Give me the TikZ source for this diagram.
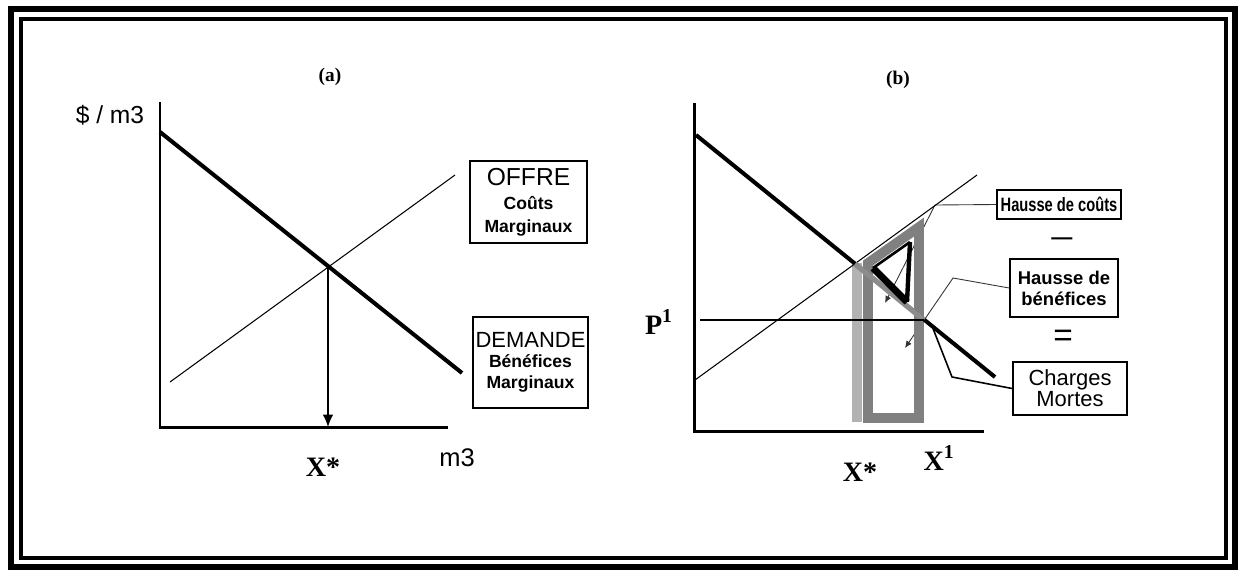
\documentclass[tikz,border=0pt]{standalone}
\usepackage{fontspec}
\setmainfont{Liberation Serif}
\setsansfont{Liberation Sans}
\newfontfamily\narrowsf[FakeStretch=0.76]{Liberation Sans}
\usetikzlibrary{arrows.meta}
\tikzset{
  frameout/.style={line width=3.8pt},
  framein/.style={line width=1.8pt},
  axis/.style={line width=1.7pt},
  dem/.style={line width=2.3pt},
  sup/.style={line width=0.6pt},
  lbox/.style={draw, line width=1pt, inner sep=0pt, align=center},
  conn/.style={line width=0.5pt, black!80},
  tip/.style={-{Latex[length=4pt,width=3.5pt]}},
  serlab/.style={font=\bfseries\fontsize{16}{16}\selectfont},
  panlab/.style={font=\bfseries\fontsize{11}{11}\selectfont},
  bandlight/.style={line width=5.5pt, black!30},
  banddark/.style={line width=5.5pt, black!50},
}
\begin{document}
\begin{tikzpicture}[x=0.02cm,y=-0.02cm]
\useasboundingbox (0,0) rectangle (1244,575);
% frame
\draw[frameout] (11,9) rectangle (1235,567);
\draw[framein] (21,19) rectangle (1226,558);

% ---------- panel (a)
\node[panlab] (pa) at (330,77) {(a)};
\node[font=\sffamily\fontsize{14}{14}\selectfont] (ylab) at (110,115) {\$ / m3};
\coordinate (a0) at (160,427);
\coordinate (ay) at (160,102);
\coordinate (ax) at (448,427);
\draw[axis] (ay) -- (a0) -- (ax);
\coordinate (ad1) at (160,132);
\coordinate (ad2) at (462,373);
\coordinate (as1) at (170,382);
\coordinate (as2) at (455,175);
\draw[sup] (as1) -- (as2);
\draw[dem] (ad1) -- (ad2);
\coordinate (ae) at (328,266);
\coordinate (aex) at (328,427);
\draw[line width=0.8pt,-{Latex[length=7pt,width=6pt]}] (ae) -- (aex);
\node[serlab] (axs) at (323,467) {X*};
\node[font=\sffamily\fontsize{14.5}{14.5}\selectfont] (am3) at (457,458) {m3};
\node[lbox, minimum width=2.34cm, minimum height=1.64cm] (offre) at (528.5,202)
  {\sffamily\fontsize{14}{16}\selectfont OFFRE\\[1.5pt]
   \sffamily\bfseries\fontsize{10}{12.5}\selectfont Coûts\\[1pt]
   \sffamily\bfseries\fontsize{10}{12.5}\selectfont Marginaux};
\node[lbox, minimum width=2.3cm, minimum height=1.82cm] (demande) at (530.5,362.5)
  {\sffamily\fontsize{12.5}{14}\selectfont DEMANDE\\[-1pt]
   \sffamily\bfseries\fontsize{10}{10.5}\selectfont Bénéfices\\
   \sffamily\bfseries\fontsize{10}{10.5}\selectfont Marginaux};

% ---------- panel (b)
\node[panlab] (pb) at (898,80) {(b)};
\coordinate (b0) at (694,431);
\coordinate (by) at (694,103);
\coordinate (bx) at (984,431);
\coordinate (bd1) at (696,135);
\coordinate (bd2) at (995,377);
\coordinate (bs1) at (695,380);
\coordinate (bs2) at (977,175);
\coordinate (be) at (855,264);
\coordinate (bq) at (924,320);
\coordinate (bp) at (700,320);

% boxes and connectors (under the bands)
\node[lbox, minimum width=2.48cm, minimum height=0.58cm] (hc) at (1059,204.5)
  {\narrowsf\bfseries\fontsize{11}{12}\selectfont Hausse de coûts};
\node[lbox, minimum width=2.16cm, minimum height=1.16cm] (hb) at (1064,288)
  {\sffamily\bfseries\fontsize{10.5}{10.5}\selectfont Hausse de\\ \sffamily\bfseries\fontsize{10.5}{10.5}\selectfont bénéfices};
\node[lbox, minimum width=2.28cm, minimum height=1.06cm] (cm) at (1070,388.5)
  {\sffamily\fontsize{12.5}{12}\selectfont Charges\\ \sffamily\fontsize{12.5}{12}\selectfont Mortes};
\coordinate (c1a) at (935,205);
\coordinate (c1b) at (885,303);
\coordinate (c2a) at (953,278);
\coordinate (c2b) at (905,348);
\coordinate (c3a) at (952,377);
\coordinate (c3b) at (932,326);
\draw[conn,tip] (hc.west) -- (c1a) -- (c1b);
\draw[conn,tip] (hb.west) -- (c2a) -- (c2b);
\draw[line width=0.9pt] (cm.west) -- (c3a) -- (c3b);

% gray bands
\draw[bandlight] (857,263) -- (857,422);
\draw[banddark] (868,263) -- (919,227) -- (919,418) -- (868,418) -- cycle;

% curves
\draw[axis] (by) -- (b0) -- (bx);
\draw[sup] (bs1) -- (bs2);
\draw[dem] (bd1) -- (bd2);
\draw[line width=3pt, black!45] (be) -- (bq);
\draw[line width=0.7pt] (bp) -- (bq);

% black triangle
\coordinate (ta) at (873,268);
\coordinate (tb) at (910,242);
\coordinate (tc) at (907,302);
\draw[line width=1.5pt] (ta) -- (tb);
\draw[line width=2.5pt] (tb) -- (tc);
\draw[line width=4pt] (ta) -- (tc);

\node[font=\sffamily\bfseries\fontsize{12}{12}\selectfont] (moins) at (1062,241) {—};
\node[font=\sffamily\fontsize{19}{19}\selectfont] (egal) at (1063,338) {=};
\node[serlab] (p1) at (659,322) {P\textsuperscript{1}};
\node[serlab] (bxs) at (860,472) {X*};
\node[serlab] (bx1) at (939,458) {X\textsuperscript{1}};
\end{tikzpicture}
\end{document}
